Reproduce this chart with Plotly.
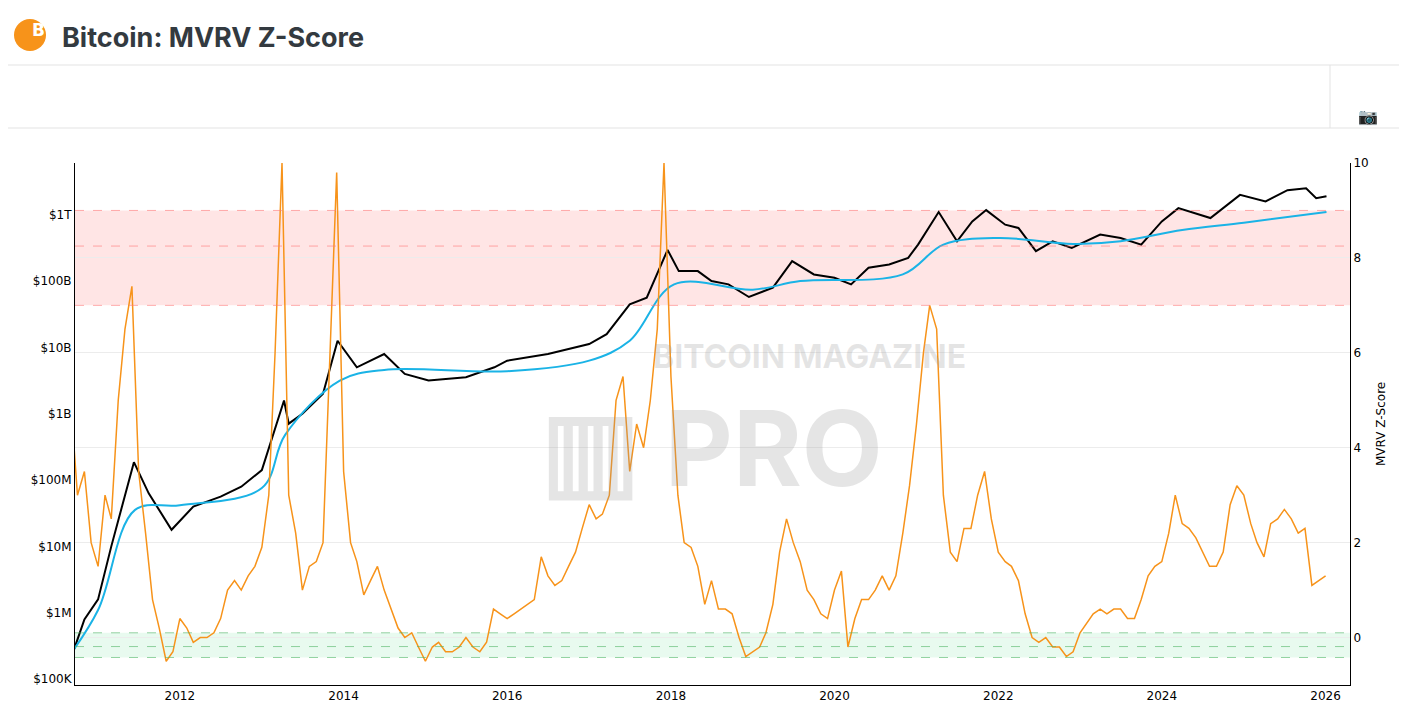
import plotly.graph_objects as go
import pandas as pd

z_start = "2010-08-01"
z_vals = [6.0,5.0,3.0,3.5,2.0,
 1.5,3.0,2.5,5.0,6.5,7.4,3.5,2.2,0.8,0.2,-0.5,-0.3,
 0.4,0.2,-0.1,0.0,0.0,0.1,0.4,1.0,1.2,1.0,1.3,1.5,
 1.9,3.0,6.0,10.0,3.0,2.2,1.0,1.5,1.6,2.0,6.0,9.8,
 3.5,2.0,1.6,0.9,1.2,1.5,1.0,0.6,0.2,0.0,0.1,-0.2,
 -0.5,-0.2,-0.1,-0.3,-0.3,-0.2,0.0,-0.2,-0.3,-0.1,0.6,0.5,
 0.4,0.5,0.6,0.7,0.8,1.7,1.3,1.1,1.2,1.5,1.8,2.3,
 2.8,2.5,2.6,3.0,5.0,5.5,3.5,4.5,4.0,5.0,6.5,10.0,
 5.5,3.0,2.0,1.9,1.5,0.7,1.2,0.6,0.6,0.5,0.0,-0.4,
 -0.3,-0.2,0.1,0.7,1.8,2.5,2.0,1.6,1.0,0.8,0.5,0.4,
 1.0,1.4,-0.2,0.4,0.8,0.8,1.0,1.3,1.0,1.3,2.2,3.2,
 4.5,6.0,7.0,6.5,3.0,1.8,1.6,2.3,2.3,3.0,3.5,2.5,
 1.8,1.6,1.5,1.2,0.5,0.0,-0.1,0.0,-0.2,-0.2,-0.4,-0.3,
 0.1,0.3,0.5,0.6,0.5,0.6,0.6,0.4,0.4,0.8,1.3,1.5,
 1.6,2.2,3.0,2.4,2.3,2.1,1.8,1.5,1.5,1.8,2.8,3.2,
 3.0,2.4,2.0,1.7,2.4,2.5,2.7,2.5,2.2,2.3,1.1,1.2,1.3]
z_dates = pd.date_range(z_start, periods=len(z_vals), freq="MS")

mc_dates = ["2010-08-15","2010-09-15","2010-11-01","2011-01-01","2011-03-01","2011-06-10","2011-08-15","2011-11-25","2012-03-01",
 "2012-07-01","2012-10-01","2013-01-01","2013-04-10","2013-05-01","2013-07-01","2013-10-01",
 "2013-12-05","2014-03-01","2014-07-01","2014-10-01","2015-01-15","2015-07-01","2015-11-05","2016-01-01","2016-07-01","2017-01-01",
 "2017-03-20","2017-07-01","2017-09-15","2017-12-17","2018-02-05","2018-05-01","2018-07-01","2018-09-15","2018-12-15","2019-04-01",
 "2019-06-26","2019-10-01","2020-01-01","2020-03-15","2020-06-01","2020-09-01","2020-11-25","2021-01-08","2021-04-10","2021-07-01",
 "2021-09-07","2021-11-08","2022-02-01","2022-04-01","2022-06-18","2022-09-01","2022-11-25","2023-04-01","2023-07-01","2023-10-01",
 "2024-01-01","2024-03-15","2024-08-05","2024-12-15","2025-04-08","2025-07-15","2025-10-06","2025-11-20","2026-01-05"]
mc_log = [5.35,5.44,5.9,6.2,7.0,8.27,7.8,7.25,7.6,7.75,7.9,8.15,9.2,8.85,9.0,9.3,
 10.1,9.7,9.9,9.6,9.5,9.55,9.7,9.8,9.9,10.05,10.2,10.65,10.75,11.47,11.15,11.15,11.0,10.95,10.76,10.9,
 11.3,11.1,11.05,10.95,11.2,11.25,11.35,11.55,12.04,11.6,11.9,12.07,11.85,11.8,11.45,11.6,11.5,11.7,11.65,11.55,
 11.9,12.1,11.95,12.3,12.2,12.37,12.4,12.25,12.28]

rc_dates = ["2010-08-15","2011-01-01","2011-06-15","2012-01-01","2013-01-01","2013-04-15","2013-12-15","2014-07-01",
 "2016-01-01","2017-01-01","2017-07-01","2018-01-15","2019-01-01","2019-08-01","2020-11-01","2021-05-01","2022-01-01",
 "2022-12-01","2023-07-01","2024-04-01","2025-01-01","2026-01-05"]
rc_log = [5.3,6.04,7.55,7.62,7.88,8.68,9.5,9.66,9.64,9.8,10.1,10.95,10.87,11.0,11.1,11.55,11.65,11.56,11.6,11.77,11.88,12.04]

fig = go.Figure()
fig.add_trace(go.Scatter(x=pd.to_datetime(mc_dates), y=[10**v for v in mc_log], mode="lines",
    line=dict(color="black", width=2), name="Market Cap"))
fig.add_trace(go.Scatter(x=pd.to_datetime(rc_dates), y=[10**v for v in rc_log], mode="lines",
    line=dict(color="#1ab3e6", width=2, shape="spline"), name="Realized Cap"))
fig.add_trace(go.Scatter(x=z_dates, y=z_vals, mode="lines", yaxis="y2",
    line=dict(color="#f7931a", width=1.5), name="Z-Score"))

W, H = 1399, 717
L, R, T, B = 67, 57, 155, 40
def py(p): return (H - B - (p - 8)) / (H - T - B)
def px(p): return (p - 8 - L) / (W - L - R)

shapes = []
shapes.append(dict(type="rect", xref="paper", yref="y2", x0=0, x1=1, y0=7, y1=9, fillcolor="rgba(255,0,0,0.1)", line=dict(width=0), layer="below"))
shapes.append(dict(type="rect", xref="paper", yref="y2", x0=0, x1=1, y0=-0.42, y1=0.1, fillcolor="rgba(0,200,80,0.09)", line=dict(width=0), layer="below"))
for yv in [9, 8.25, 7]:
    shapes.append(dict(type="line", xref="paper", yref="y2", x0=0, x1=1, y0=yv, y1=yv, line=dict(color="rgba(255,120,120,0.6)", width=1, dash="dash")))
for yv in [0.1, -0.19, -0.42]:
    shapes.append(dict(type="line", xref="paper", yref="y2", x0=0, x1=1, y0=yv, y1=yv, line=dict(color="rgba(80,180,100,0.6)", width=1, dash="dash")))
for yy in [3, 65, 128]:
    shapes.append(dict(type="line", xref="paper", yref="paper", x0=px(0), x1=px(1407), y0=py(yy), y1=py(yy), line=dict(color="#e3e3e3", width=1)))
shapes.append(dict(type="line", xref="paper", yref="paper", x0=px(1330), x1=px(1330), y0=py(65), y1=py(128), line=dict(color="#e3e3e3", width=1)))
shapes.append(dict(type="circle", xref="paper", yref="paper", x0=px(14), x1=px(46), y0=py(51), y1=py(19), fillcolor="#f7931a", line=dict(width=0)))

HY = 17  # header annotation offset correction
ann = [
 dict(text="<b>B</b>", x=px(30), y=py(35 - HY), xref="paper", yref="paper", showarrow=False, font=dict(size=17, color="white", family="DejaVu Sans")),
 dict(text="<b>Bitcoin: MVRV Z-Score</b>", x=px(60), y=py(36 - HY), xref="paper", yref="paper", xanchor="left", showarrow=False, font=dict(size=27, color="#333a40", family="Inter")),
 dict(text="📷", x=px(1380), y=py(105), xref="paper", yref="paper", showarrow=False, font=dict(size=16, color="#444")),
 dict(text="MVRV Z-Score", x=px(1390), y=py(424), xref="paper", yref="paper", textangle=-90, showarrow=False, font=dict(size=12, color="black")),
 dict(text="<b>BITCOIN MAGAZINE</b>", x=px(810), y=py(356), xref="paper", yref="paper", showarrow=False, font=dict(size=32, color="rgba(150,150,150,0.25)", family="Inter")),
 dict(text="<b>▥ PRO</b>", x=px(712), y=py(448), xref="paper", yref="paper", showarrow=False, font=dict(size=105, color="rgba(150,150,150,0.25)", family="Inter")),
]

fig.update_layout(
    width=W, height=H, margin=dict(l=L, r=R, t=T, b=B),
    paper_bgcolor="white", plot_bgcolor="white", showlegend=False,
    font=dict(family="Verdana, DejaVu Sans", size=12, color="black"),
    xaxis=dict(range=["2010-09-20", "2026-04-20"], showgrid=False, showline=True, linecolor="black",
               tickvals=[f"{y}-01-01" for y in range(2012, 2027, 2)], ticktext=[str(y) for y in range(2012, 2027, 2)]),
    yaxis=dict(type="log", range=[4.91, 12.78], showgrid=False, showline=True, linecolor="black",
               tickvals=[1e5,1e6,1e7,1e8,1e9,1e10,1e11,1e12], ticktext=["$100K","$1M","$10M","$100M","$1B","$10B","$100B","$1T"]),
    yaxis2=dict(overlaying="y", side="right", range=[-1, 10], showline=True, linecolor="black",
                showgrid=True, gridcolor="#ececec", tickvals=[0,2,4,6,8,10], zeroline=False),
    shapes=shapes, annotations=ann,
)
fig.write_html("out.html")
